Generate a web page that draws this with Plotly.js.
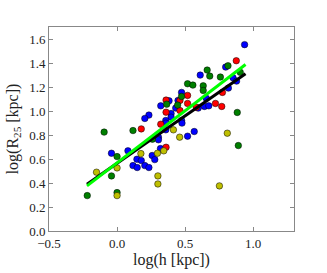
<!DOCTYPE html>
<html>
<head>
<meta charset="utf-8">
<script src="https://cdn.plot.ly/plotly-3.0.1.min.js"></script>
<style>html,body{margin:0;padding:0;background:#fff;}#chart{width:327px;height:273px;}</style>
</head>
<body>
<div id="chart"></div>
<script>
// Data (log h, log R25)
const blueX = [0.937,0.798,0.611,0.852,0.878,0.818,0.474,0.382,0.234,0.204,0.321,0.397,0.397,0.358,0.358,0.431,0.448,0.474,0.477,0.567,0.518,0.596,0.642,0.674,0.655,0.304,0.304,0.258,0.277,0.319,0.146,0.178,0.117,0.148,0.204,0.234,0.080,-0.041,0.358];
const blueY = [1.553,1.366,1.299,1.277,1.249,1.191,1.155,1.085,0.966,0.938,1.043,0.979,0.949,0.921,0.899,1.024,1.088,0.921,0.899,0.829,0.790,1.024,1.038,1.043,1.107,0.782,0.760,0.629,0.595,0.687,0.598,0.587,0.545,0.529,0.545,0.529,0.668,0.648,0.843];
const redX = [0.876,0.518,0.518,0.462,0.360,0.360,0.321,0.178,0.360,0.462,0.582,0.723,0.769,0.774];
const redY = [1.419,1.130,1.063,1.088,1.091,0.990,0.890,0.851,0.698,1.004,1.032,1.063,1.038,1.155];
const greenX = [-0.219,-0.095,-0.041,0.000,0.000,0.117,0.260,0.365,0.445,0.474,0.518,0.557,0.633,0.633,0.662,0.681,0.815,0.759,0.905,0.883,0.891];
const greenY = [0.295,0.824,0.459,0.620,0.320,0.837,0.765,1.057,1.049,1.121,1.227,1.216,1.210,1.171,1.341,1.291,1.377,1.283,1.322,0.988,0.712];
const yellowX = [-0.151,0.000,0.000,0.175,0.300,0.300,0.297,0.343,0.414,0.460,0.810,0.752];
const yellowY = [0.490,0.526,0.295,0.645,0.459,0.392,0.648,0.668,0.843,0.782,0.815,0.376];
// Fit lines (endpoints of the fits)
const fitBlackX = [-0.221, 0.944];
const fitBlackY = [0.390, 1.310];
const fitGreenX = [-0.221, 0.944];
const fitGreenY = [0.376, 1.388];
const xTicks = [-0.5, 0.0, 0.5, 1.0];
const xTickText = ['\u22120.5', '0.0', '0.5', '1.0'];
const yTicks = [0.0, 0.2, 0.4, 0.6, 0.8, 1.0, 1.2, 1.4, 1.6];
const yTickText = ['0.0','0.2','0.4','0.6','0.8','1.0','1.2','1.4','1.6'];

function pts(x, y, color) {
  return {x: x, y: y, type: 'scatter', mode: 'markers', showlegend: false, hoverinfo: 'skip',
    marker: {color: color, size: 6.5, line: {color: '#000', width: 0.5}}};
}
const traces = [
  pts(blueX, blueY, '#0000ff'),
  pts(redX, redY, '#ff0000'),
  pts(greenX, greenY, '#007f00'),
  pts(yellowX, yellowY, '#bfbf00'),
  {x: fitBlackX, y: fitBlackY, type: 'scatter', mode: 'lines', showlegend: false,
    line: {color: '#000000', width: 3}},
  {x: fitGreenX, y: fitGreenY, type: 'scatter', mode: 'lines', showlegend: false,
    line: {color: '#00ff00', width: 3}}
];
const fontSerif = 'Liberation Serif, Times New Roman, serif';
const axisCommon = {
  showgrid: false, zeroline: false, showline: true, mirror: 'ticks',
  linecolor: '#888888', linewidth: 1, ticks: 'inside', ticklen: 4, tickwidth: 1,
  tickcolor: '#888888', tickmode: 'array',
  tickfont: {family: fontSerif, size: 13, color: '#222'}
};
const layout = {
  width: 327, height: 273,
  margin: {l: 49, r: 33, t: 27, b: 42},
  paper_bgcolor: '#ffffff', plot_bgcolor: '#ffffff',
  xaxis: Object.assign({}, axisCommon, {
    range: [-0.5, 1.3], tickvals: xTicks, ticktext: xTickText,
    title: {text: 'log(h [kpc])', font: {family: fontSerif, size: 16, color: '#222'}, standoff: 4}
  }),
  yaxis: Object.assign({}, axisCommon, {
    range: [0.0, 1.7], tickvals: yTicks, ticktext: yTickText,
    title: {text: 'log(R<sub>25</sub> [kpc])', font: {family: fontSerif, size: 16, color: '#222'}, standoff: 6}
  })
};
Plotly.newPlot('chart', traces, layout, {staticPlot: true, displayModeBar: false});
</script>
</body>
</html>
